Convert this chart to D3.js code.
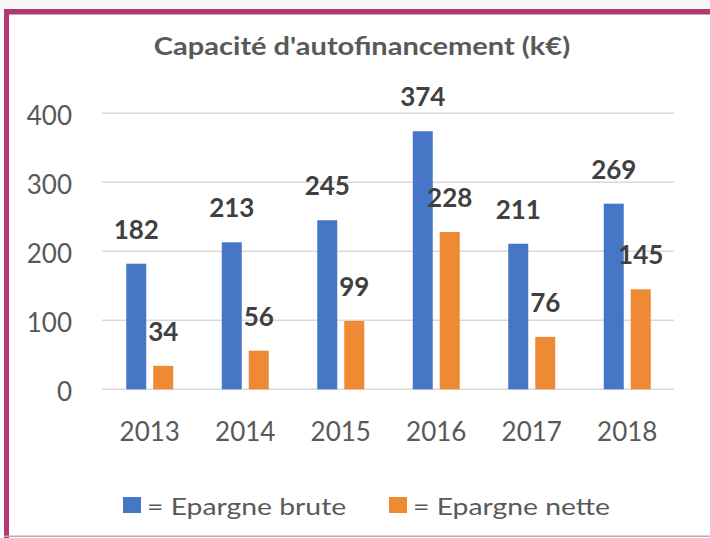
<!DOCTYPE html>
<html><head><meta charset="utf-8">
<script src="https://cdn.jsdelivr.net/npm/d3@7"></script>
<style>
html,body{margin:0;padding:0;background:#fff;}
svg{display:block;}
</style></head>
<body>
<script>
const title = "Capacité d'autofinancement (k€)";
const years = ["2013","2014","2015","2016","2017","2018"];
const series = ["Epargne brute","Epargne nette"];
const brute = [182,213,245,374,211,269];
const nette = [34,56,99,228,76,145];
const yTicks = [0,100,200,300,400];
const colors = ["#4677c6","#ef8a34"];

const W = 710, H = 538;
const svg = d3.select("body").append("svg").attr("width",W).attr("height",H);
svg.append("rect").attr("width",W).attr("height",H).attr("fill","#fff");
// frame
svg.append("rect").attr("x",0).attr("y",0).attr("width",W).attr("height",9).attr("fill","#f6f6f6");
svg.append("rect").attr("x",4).attr("y",9).attr("width",W-4).attr("height",5.5).attr("fill","#b03a6f");
svg.append("rect").attr("x",4).attr("y",9).attr("width",5).attr("height",H-9).attr("fill","#b03a6f");
svg.append("rect").attr("x",4).attr("y",535.5).attr("width",W-4).attr("height",1.5).attr("fill","#c9a0b4");

const font = "Lato, 'Open Sans', sans-serif";
const x0 = d3.scaleBand().domain(years).range([102,675]).paddingInner(0.508).paddingOuter(0.254);
const x1 = d3.scaleBand().domain(series).range([0,x0.bandwidth()]).paddingInner(0.259);
const y = d3.scaleLinear().domain([0,400]).range([389.3,113.3]);

// gridlines
svg.append("g").selectAll("line").data(yTicks).join("line")
  .attr("x1",102).attr("x2",674)
  .attr("y1",d=>y(d)).attr("y2",d=>y(d))
  .attr("stroke","#d9d9d9").attr("stroke-width",1.5);

// y axis labels
const yAxis = d3.axisLeft(y).tickValues(yTicks).tickSize(0).tickPadding(0);
const ya = svg.append("g").attr("transform","translate(72,3)").call(yAxis);
ya.select(".domain").remove();
ya.selectAll("text").attr("font-family",font).attr("font-size",26).attr("fill","#595959");

// x axis labels
const xAxis = d3.axisBottom(x0).tickSize(0).tickPadding(0);
const xa = svg.append("g").attr("transform","translate(0,423)").call(xAxis);
xa.select(".domain").remove();
xa.selectAll("text").attr("font-family",font).attr("font-size",26).attr("fill","#595959");

// bars
const data = years.map((yr,i)=>({yr, vals:[brute[i],nette[i]]}));
const grp = svg.append("g").selectAll("g").data(data).join("g")
  .attr("transform",d=>`translate(${x0(d.yr)},0)`);
grp.selectAll("rect").data(d=>d.vals.map((v,j)=>({s:series[j],v,j}))).join("rect")
  .attr("x",d=>x1(d.s)).attr("width",x1.bandwidth())
  .attr("y",d=>y(d.v)).attr("height",d=>y(0)-y(d.v))
  .attr("fill",d=>colors[d.j]);
grp.selectAll("text").data(d=>d.vals.map((v,j)=>({s:series[j],v,j}))).join("text")
  .attr("x",d=>x1(d.s)+x1.bandwidth()/2)
  .attr("y",d=>y(d.v)-25)
  .attr("text-anchor","middle")
  .attr("font-family",font).attr("font-size",26).attr("font-weight","bold")
  .attr("fill","#404040").text(d=>d.v);

// title
svg.append("text").attr("transform","translate(362,55) scale(1.21,1)").attr("text-anchor","middle")
  .attr("font-family",font).attr("font-size",24).attr("font-weight","bold")
  .attr("fill","#595959").text(title);

// legend
const legX = [123,389];
const lg = svg.append("g").selectAll("g").data(series).join("g")
  .attr("transform",(d,i)=>`translate(${legX[i]},0)`);
lg.append("rect").attr("x",0).attr("y",497).attr("width",18).attr("height",16).attr("fill",(d,i)=>colors[i]);
lg.append("text").attr("transform","translate(24,515) scale(1.18,1)").attr("font-family",font).attr("font-size",24)
  .attr("fill","#595959").text(d=>"= "+d);
</script>
</body></html>
